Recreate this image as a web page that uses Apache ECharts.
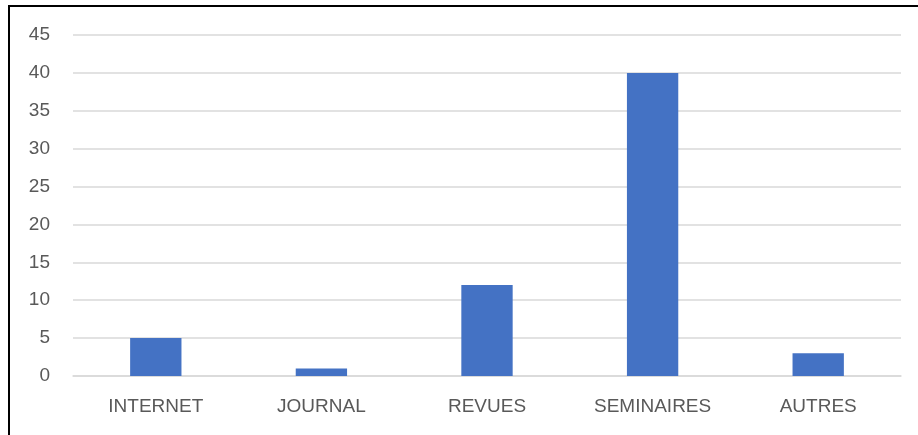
<!DOCTYPE html>
<html>
<head>
<meta charset="utf-8">
<script src="https://cdn.jsdelivr.net/npm/echarts@6/dist/echarts.min.js"></script>
<style>
  html, body { margin: 0; padding: 0; background: #fff; }
  #frame { position: absolute; left: 0; top: 0; width: 918px; height: 435px; }
  #border { position: absolute; left: 8px; top: 5px; width: 930px; height: 450px;
            border-left: 2px solid #000; border-top: 2px solid #000; box-sizing: border-box; }
  #chart { position: absolute; left: 0; top: 0; width: 918px; height: 435px; }
</style>
</head>
<body>
<div id="frame">
  <div id="border"></div>
  <div id="chart"></div>
</div>
<script>
const categories = ['INTERNET', 'JOURNAL', 'REVUES', 'SEMINAIRES', 'AUTRES'];
const values = [5, 1, 12, 40, 3];

const chart = echarts.init(document.getElementById('chart'), null, { renderer: 'canvas' });
chart.setOption({
  backgroundColor: 'transparent',
  animation: false,
  grid: { left: 73, right: 17, top: 35, bottom: 59, containLabel: false },
  xAxis: {
    type: 'category',
    data: categories,
    axisLine: { show: true, lineStyle: { color: '#d9d9d9', width: 1.5 } },
    axisTick: { show: false },
    axisLabel: { color: '#595959', fontSize: 19, fontFamily: 'Liberation Sans', margin: 21 }
  },
  yAxis: {
    type: 'value',
    min: 0, max: 45, interval: 5,
    axisLine: { show: false },
    axisTick: { show: false },
    splitLine: { lineStyle: { color: '#d9d9d9', width: 1.5 } },
    axisLabel: { color: '#595959', fontSize: 19, fontFamily: 'Liberation Sans', margin: 23 }
  },
  series: [{
    type: 'bar',
    data: values,
    barWidth: '31%',
    itemStyle: { color: '#4472c4' }
  }]
});
</script>
</body>
</html>
